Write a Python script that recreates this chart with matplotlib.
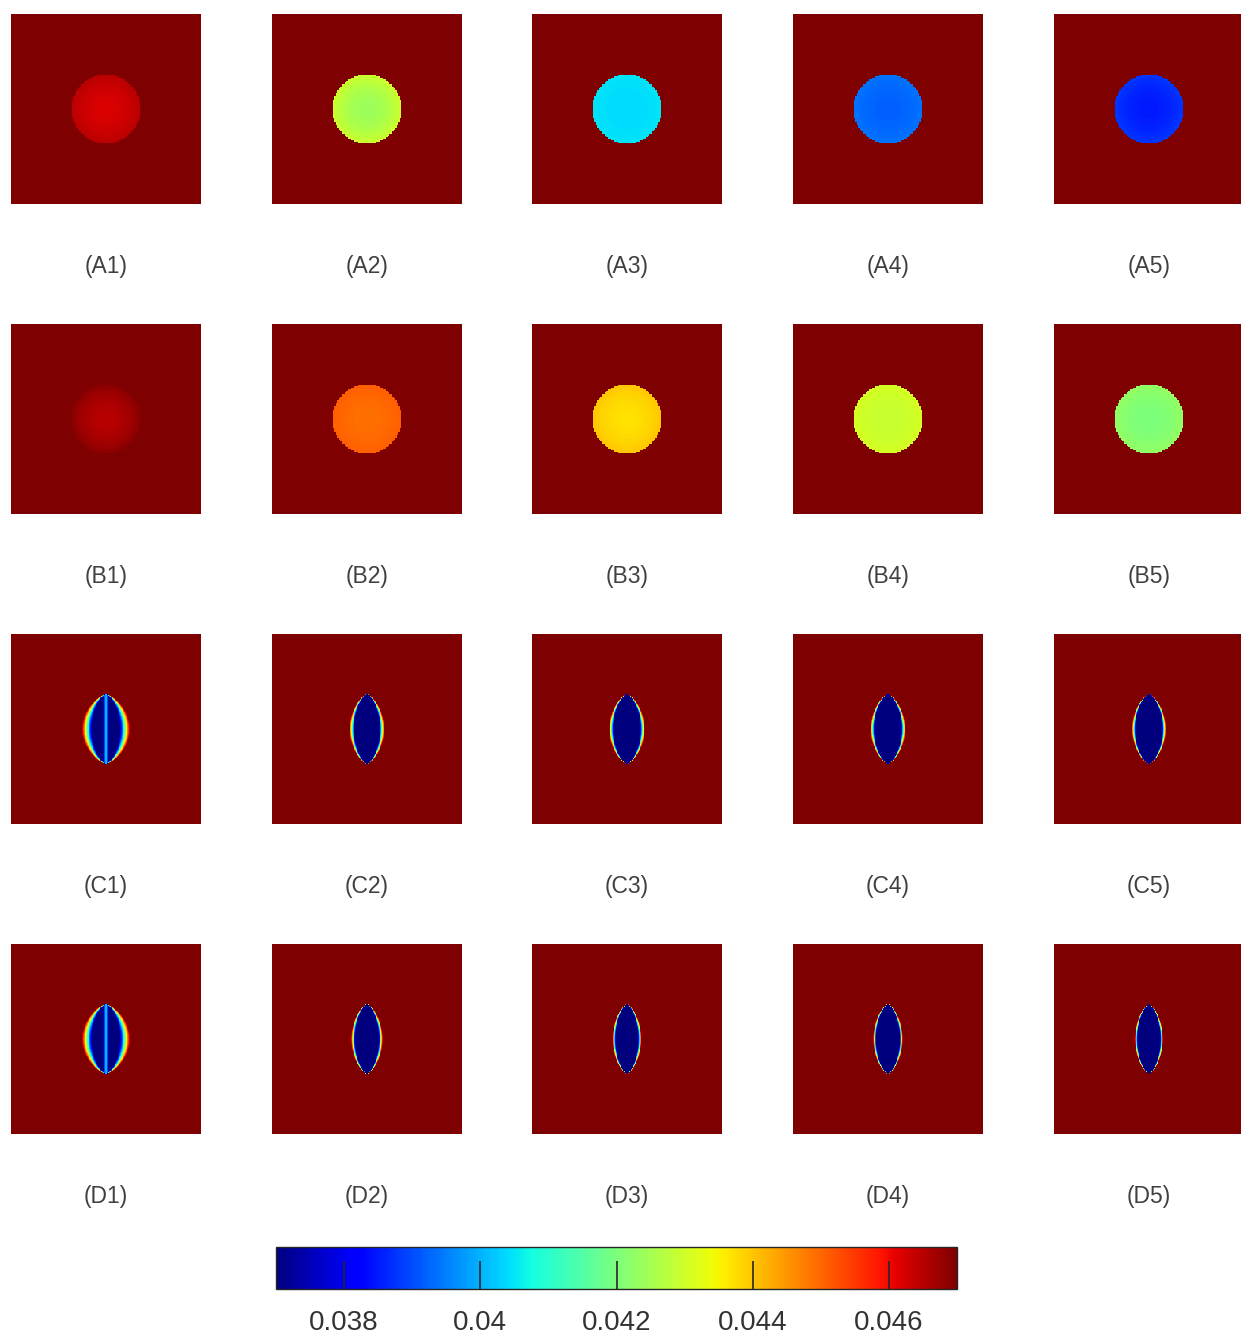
import numpy as np
import matplotlib
matplotlib.use("Agg")
from matplotlib import pyplot as plt

plt.rcParams['font.family'] = ['Liberation Sans', 'DejaVu Sans']

# colour scale shared by every panel
vmin, vmax = 0.037, 0.047
background = 0.047

row_names = ["A", "B", "C", "D"]
col_names = ["1", "2", "3", "4", "5"]

# rows A and B: circular inclusion, value at centre and at rim
circle_radius = 0.368
a_centre = [0.0462, 0.0424, 0.0404, 0.0392, 0.0385]
a_rim = [0.0465, 0.0430, 0.0405, 0.0394, 0.0388]
b_centre = [0.0465, 0.0449, 0.0437, 0.0429, 0.0420]
b_rim = [0.0469, 0.0451, 0.0440, 0.0431, 0.0423]

# rows C and D: lens shaped inclusion
lens_half_height = 0.37
lens_core = 0.037
c_half_width = [0.255, 0.185, 0.19, 0.185, 0.18]
c_core_frac = [0.58, 0.72, 0.75, 0.77, 0.79]
d_half_width = [0.255, 0.168, 0.155, 0.158, 0.15]
d_core_frac = [0.58, 0.74, 0.76, 0.78, 0.80]
# thin vertical seam inside the first lens of each row
seam_value = [0.0402, None, None, None, None]

col_left = [11, 272, 532, 793, 1054]
row_top = [14, 324, 634, 944]
label_y = [266, 576, 886, 1196]
panel = 190
W, H = 1241, 1335


def circle_field(centre, rim, n=128):
    x = np.linspace(-1, 1, n)
    X, Y = np.meshgrid(x, x)
    r = np.hypot(X, Y)
    f = np.full_like(X, background)
    inside = r <= circle_radius
    f[inside] = rim + (centre - rim) * (1 - (r[inside] / circle_radius) ** 2)
    return f


def lens_field(half_w, core_frac, seam, n=240):
    x = np.linspace(-1, 1, n)
    X, Y = np.meshgrid(x, x)
    h = lens_half_height
    # half width of the lens at each height, pointed at both ends
    wy = half_w * np.clip(1 - (Y / h) ** 2, 0, None) ** 0.72
    wy = np.clip(wy, 1e-6, None)
    s = np.abs(X) / wy
    f = np.full_like(X, background)
    inside = (np.abs(Y) < h) & (s < 1)
    t = np.clip((s - core_frac) / (1 - core_frac), 0, 1)
    f[inside] = lens_core + (background - lens_core) * t[inside]
    if seam is not None:
        bump = np.exp(-(X / 0.018) ** 2)
        core = inside & (s < core_frac)
        f[core] = f[core] + (seam - lens_core) * bump[core]
    return f


fig = plt.figure(figsize=(W / 100, H / 100), dpi=100)

for i, row in enumerate(row_names):
    for j, col in enumerate(col_names):
        if row == "A":
            field = circle_field(a_centre[j], a_rim[j])
        elif row == "B":
            field = circle_field(b_centre[j], b_rim[j])
        elif row == "C":
            field = lens_field(c_half_width[j], c_core_frac[j], seam_value[j])
        else:
            field = lens_field(d_half_width[j], d_core_frac[j], seam_value[j])

        ax = fig.add_axes([col_left[j] / W, 1 - (row_top[i] + panel) / H,
                           panel / W, panel / H])
        im = ax.imshow(field, cmap="jet", vmin=vmin, vmax=vmax, origin="lower",
                       extent=[-1, 1, -1, 1], interpolation="nearest")
        ax.set_axis_off()
        fig.text((col_left[j] + panel / 2) / W, 1 - label_y[i] / H,
                 "(%s%s)" % (row, col), ha="center", va="center",
                 fontsize=16.5, color="#404040")

# horizontal colour bar under the grid
cb_ticks = [0.038, 0.040, 0.042, 0.044, 0.046]
cb_labels = ["0.038", "0.04", "0.042", "0.044", "0.046"]
cax = fig.add_axes([276 / W, 1 - 1289 / H, 681 / W, 42 / H])
cb = fig.colorbar(im, cax=cax, orientation="horizontal", ticks=cb_ticks)
cb.ax.set_xticklabels(cb_labels)
cb.ax.tick_params(direction="in", length=20, width=1.2, labelsize=20,
                  labelcolor="#333333", color="#262626", pad=15)
cb.outline.set_linewidth(1.0)
cb.outline.set_edgecolor("#262626")

fig.savefig("out.png", dpi=100)
